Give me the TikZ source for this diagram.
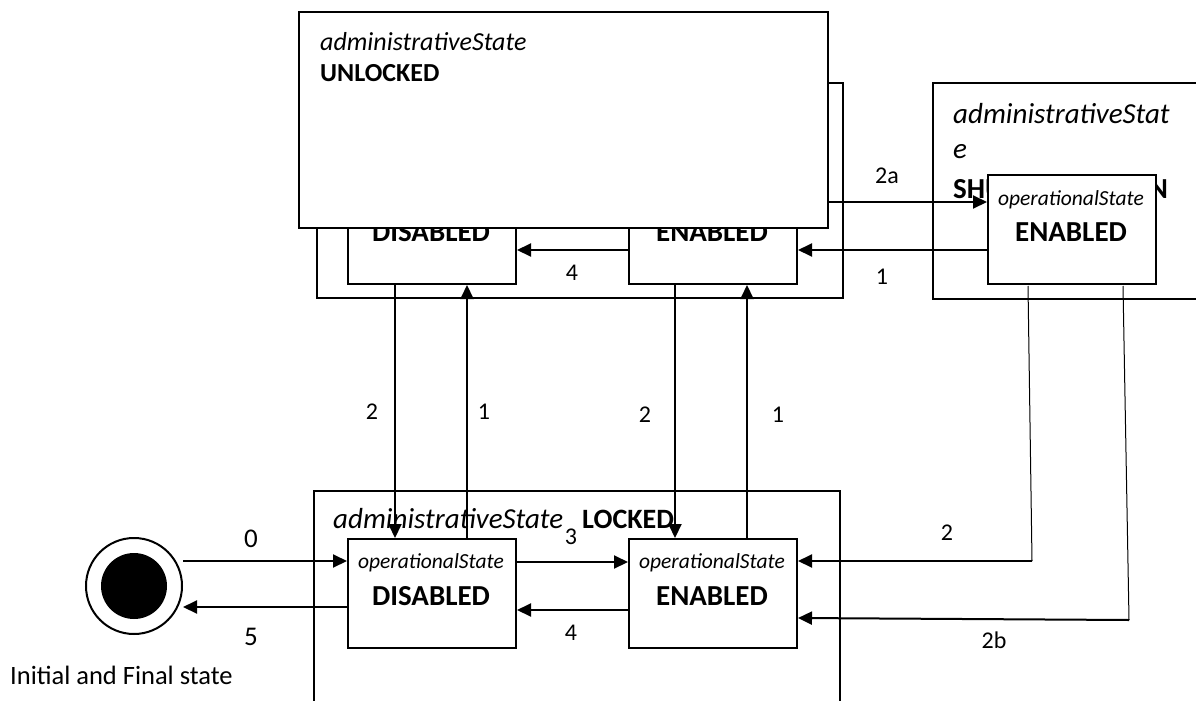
\documentclass[tikz,border=0pt]{standalone}
\usepackage{fontspec}
\setmainfont{Carlito}
\usetikzlibrary{arrows.meta}
\tikzset{
  box/.style={draw, line width=2pt, fill=white, inner sep=0pt},
  statebox/.style={box, minimum width=168pt, minimum height=109pt},
  tr/.style={line width=2pt, -{Triangle[length=14pt,width=13pt]}},
  thinl/.style={line width=1pt},
  lbl/.style={font=\fontsize{24}{28}\selectfont, inner sep=0pt},
  opst/.style={font=\fontsize{21.5}{24}\selectfont\itshape, inner sep=0pt},
  stname/.style={font=\fontsize{29}{32}\selectfont\bfseries, inner sep=0pt},
  adm/.style={font=\fontsize{26}{30}\selectfont, inner sep=0pt, anchor=west},
}
\begin{document}
\begin{tikzpicture}[x=1pt,y=-1pt]
\useasboundingbox (0,0) rectangle (1196,701);
\clip (0,0) rectangle (1196,701);
\fill[white] (0,0) rectangle (1196,701);

% back UNLOCKED container
\node[box, minimum width=526pt, minimum height=215pt, anchor=north west] (unlockback) at (316,82) {};
% upper inner state boxes
\node[statebox, anchor=north west] (uDis) at (347,174) {};
\node[opst] (uDisO) at (431,200) {operationalState};
\node[stname] (uDisN) at (431,232) {DISABLED};
\node[statebox, anchor=north west] (uEn) at (628,174) {};
\node[opst] (uEnO) at (712,200) {operationalState};
\node[stname] (uEnN) at (712,232) {ENABLED};

% SHUTDOWN container
\node[box, minimum width=280pt, minimum height=216pt, anchor=north west] (sdbox) at (932,82) {};
\node[adm, font=\fontsize{29}{32}\selectfont\itshape] (sdA) at (953,114) {administrativeStat};
\node[adm, font=\fontsize{29}{32}\selectfont\itshape] (sdB) at (953,152) {e};
\node[adm, font=\fontsize{29}{32}\selectfont\bfseries] (sdC) at (953,189) {SHUTTING DOWN};
\node[statebox, anchor=north west] (sdEn) at (987,174) {};
\node[opst] (sdEnO) at (1071,200) {operationalState};
\node[stname] (sdEnN) at (1071,232) {ENABLED};

% LOCKED container
\node[box, minimum width=526pt, minimum height=240pt, anchor=north west] (lockbox) at (313,490) {};
\node[adm, font=\fontsize{29}{32}\selectfont\itshape] (lkA) at (333,519) {administrativeState};
\node[adm, font=\fontsize{28}{32}\selectfont\bfseries] (lkB) at (582,519) {LOCKED};
\node[statebox, anchor=north west] (lDis) at (347,538) {};
\node[opst] (lDisO) at (431,563) {operationalState};
\node[stname] (lDisN) at (431,596) {DISABLED};
\node[statebox, anchor=north west] (lEn) at (628,538) {};
\node[opst] (lEnO) at (712,563) {operationalState};
\node[stname] (lEnN) at (712,596) {ENABLED};

% initial / final state
\node[circle, draw, line width=2pt, minimum size=96pt, inner sep=0pt] (init) at (134,586) {};
\fill (init.center) circle (33pt);
\node[lbl, font=\fontsize{26.5}{30}\selectfont, anchor=west] (initL) at (10,675) {Initial and Final state};

% connectors, upper region
\draw[tr] (uEn.west |- 0,250) -- (uDis.east |- 0,250);
\node[lbl] (l4u) at (572,273) {4};
\draw[tr] (sdEn.west |- 0,250) -- (uEn.east |- 0,250);
\node[lbl] (l1u) at (882,277) {1};
\draw[tr] (uEn.east |- 0,202) -- (sdEn.west |- 0,202);
\node[lbl] (l2a) at (887,176) {2a};

% vertical connectors
\draw[tr] (uDis.south -| 395,0) -- (lDis.north -| 395,0);
\node[lbl] (l2l) at (372,412) {2};
\draw[tr] (lDis.north -| 467,0) -- (uDis.south -| 467,0);
\node[lbl] (l1l) at (484,412) {1};
\draw[tr] (uEn.south -| 675,0) -- (lEn.north -| 675,0);
\node[lbl] (l2r) at (645,415) {2};
\draw[tr] (lEn.north -| 747,0) -- (uEn.south -| 747,0);
\node[lbl] (l1r) at (778,415) {1};

% lower connectors
\draw[tr] (lDis.east |- 0,562) -- (lEn.west |- 0,562);
\node[lbl] (l3) at (571,537) {3};
\draw[tr] (lEn.west |- 0,610) -- (lDis.east |- 0,610);
\node[lbl] (l4l) at (571,633) {4};
\draw[tr] (init.east |- 0,561) -- (lDis.west |- 0,561);
\node[lbl, font=\fontsize{27}{30}\selectfont] (l0) at (251,539) {0};
\draw[tr] (lDis.west |- 0,607) -- (init.east |- 0,607);
\node[lbl, font=\fontsize{27}{30}\selectfont] (l5) at (251,637) {5};

% from SHUTDOWN ENABLED to LOCKED ENABLED
\coordinate (t2a) at (1028,286);
\coordinate (t2b) at (1032,561);
\draw[thinl] (t2a) -- (t2b);
\draw[tr] (t2b) -- (lEn.east |- 0,561);
\node[lbl] (l2s) at (947,533) {2};
\coordinate (t3a) at (1123,286);
\coordinate (t3b) at (1129,620);
\draw[thinl] (t3a) -- (t3b);
\draw[tr] (t3b) -- (lEn.east |- 0,618);
\node[lbl] (l2b) at (994,640) {2b};

% front UNLOCKED box
\node[box, minimum width=529pt, minimum height=216pt, anchor=north west] (unlockfront) at (298,11) {};
\node[adm, font=\fontsize{26}{30}\selectfont\itshape] (ulA) at (320,42) {administrativeState};
\node[adm, font=\fontsize{26}{30}\selectfont\bfseries] (ulB) at (320,73) {UNLOCKED};
\end{tikzpicture}
\end{document}
